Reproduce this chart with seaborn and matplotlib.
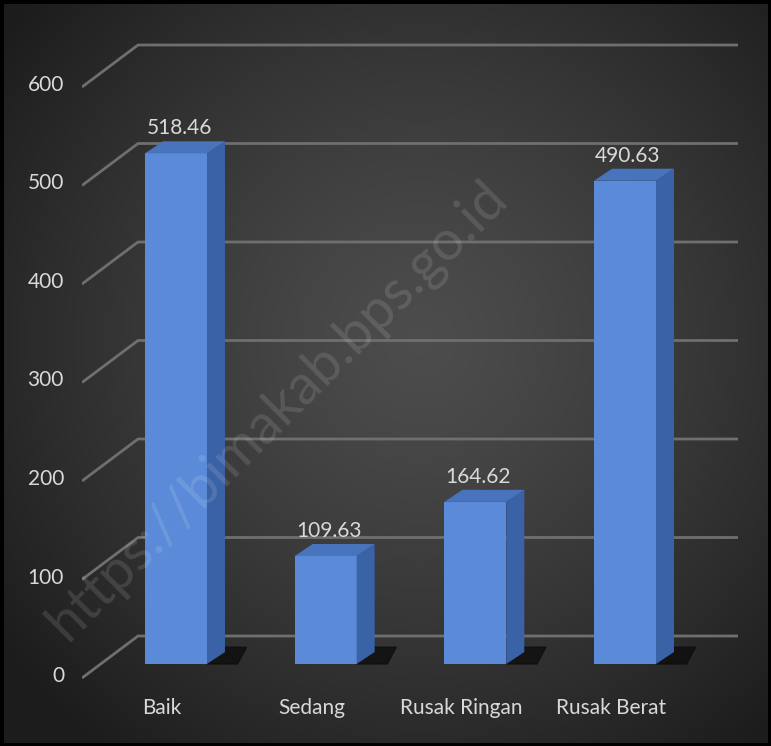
import numpy as np
import pandas as pd
import matplotlib
matplotlib.use('Agg')
import matplotlib.pyplot as plt
import matplotlib.transforms as mtransforms
from matplotlib.patches import Polygon, Rectangle
import seaborn as sns

# data
categories = ['Baik', 'Sedang', 'Rusak Ringan', 'Rusak Berat']
values = [518.46, 109.63, 164.62, 490.63]
value_labels = ['518.46', '109.63', '164.62', '490.63']
y_ticks = [0, 100, 200, 300, 400, 500, 600]

df = pd.DataFrame({'kondisi': categories, 'panjang': values})

sns.set_theme(style='white')
plt.rcParams['font.family'] = ['Lato', 'DejaVu Sans']

W, H = 771, 746
fig = plt.figure(figsize=(W / 100, H / 100), dpi=100)

# dark radial gradient background
bg = fig.add_axes([0, 0, 1, 1], zorder=-5)
yy, xx = np.mgrid[0:H, 0:W]
r = np.sqrt(((xx - 420) / 520.0) ** 2 + ((yy - 340) / 520.0) ** 2)
shade = 0.30 - 0.19 * np.clip(r, 0, 1) ** 1.3
bg.imshow(np.dstack([shade] * 3), aspect='auto', extent=[0, 1, 0, 1])
bg.set_axis_off()
fig.patches.append(Rectangle((0, 0), 1, 1, transform=fig.transFigure, fill=False,
                             edgecolor='black', linewidth=5, zorder=10))

# plot area (pixel layout of the reference)
left_px, right_px, top_px, bot_px = 82, 738, 30, 690
ax = fig.add_axes([left_px / W, 1 - bot_px / H, (right_px - left_px) / W, (bot_px - top_px) / H])
ax.set_facecolor('none')
ppx = 149.67   # px per category
ppy = 0.985    # px per value unit

sns.barplot(data=df, x='kondisi', y='panjang', color='#5b8bd8', width=0.414,
            saturation=1, ax=ax, zorder=3, edgecolor='none')

x0 = -(176 - left_px) / ppx
x1 = x0 + (right_px - left_px) / ppx
ax.set_xlim(x0, x1)
y0 = -(bot_px - 664) / ppy
ax.set_ylim(y0, y0 + (bot_px - top_px) / ppy)

# back wall gridlines with perspective
back_dx = 56 / ppx
back_dy = 28 / ppy
front_dy = -14 / ppy
for t in y_ticks:
    ax.plot([x0, x0 + back_dx, x1], [t + front_dy, t + back_dy, t + back_dy],
            color='#6f6f6f', lw=2, zorder=1, solid_capstyle='butt')
    ax.text(x0 - 18 / ppx, t - 12 / ppy, str(t), ha='right', va='center',
            color='#d9d9d9', fontsize=15, clip_on=False)

# 3d faces of the bars
ddx = 18 / ppx
ddy = 12 / ppy
for bar, lab in zip(ax.patches, value_labels):
    bx, bw, bh = bar.get_x(), bar.get_width(), bar.get_height()
    # floor shadow
    ax.add_patch(Polygon([[bx + bw, 0], [bx + bw + 1.7 * ddx, 0], [bx + bw + 2.2 * ddx, 1.4 * ddy],
                          [bx + bw + ddx, 1.4 * ddy]], closed=True, color='#0d0d0d', zorder=2, alpha=0.8))
    ax.add_patch(Polygon([[bx + bw, 0], [bx + bw + ddx, ddy], [bx + bw + ddx, bh + ddy], [bx + bw, bh]],
                         closed=True, facecolor='#3a62a6', edgecolor='none', zorder=3))
    ax.add_patch(Polygon([[bx, bh], [bx + ddx, bh + ddy], [bx + bw + ddx, bh + ddy], [bx + bw, bh]],
                         closed=True, facecolor='#4874bd', edgecolor='none', zorder=3))
    ax.text(bx + bw / 2 + 0.02, bh + ddy + 13 / ppy, lab, ha='center', va='center',
            color='#d9d9d9', fontsize=15, zorder=4)

ax.set_xticks(range(len(categories)))
ax.set_xticklabels(categories, color='#d9d9d9', fontsize=15)
ax.tick_params(axis='x', length=0, pad=6)
shift = mtransforms.ScaledTranslation(-14 / 100, 0, fig.dpi_scale_trans)
for lbl in ax.get_xticklabels():
    lbl.set_transform(lbl.get_transform() + shift)
ax.set_yticks([])
ax.set_xlabel('')
ax.set_ylabel('')
for s in ax.spines.values():
    s.set_visible(False)

# faint watermark
fig.text(0.36, 0.45, 'https://bimakab.bps.go.id', rotation=45, ha='center', va='center',
         fontsize=40, color='white', alpha=0.12)

fig.savefig('out.png', dpi=100)
